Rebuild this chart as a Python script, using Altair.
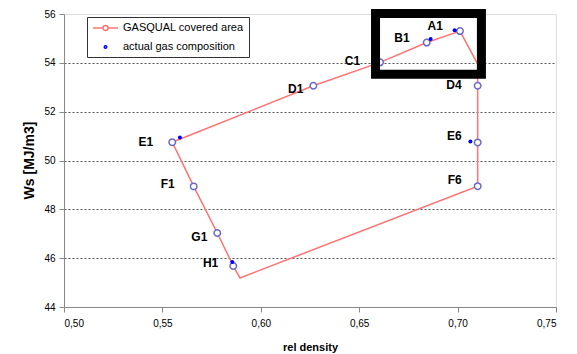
import altair as alt
import pandas as pd

# GASQUAL corner points (labelled, open circles)
names = ["A1", "B1", "C1", "D1", "E1", "F1", "G1", "H1", "F6", "E6", "D4"]
rel = [0.7012, 0.6843, 0.6606, 0.6267, 0.5550, 0.5659, 0.5779, 0.5860, 0.7102, 0.7102, 0.7102]
ws = [55.30, 54.83, 54.02, 53.06, 50.75, 48.94, 47.03, 45.68, 48.95, 50.74, 53.06]

# outline of the covered area (polygon, in drawing order)
outline_rel = [0.7012, 0.6843, 0.6606, 0.6267, 0.5550, 0.5659, 0.5779, 0.5860,
               0.5894, 0.7102, 0.7102, 0.7102, 0.7102, 0.7012]
outline_ws = [55.30, 54.83, 54.02, 53.06, 50.75, 48.94, 47.03, 45.68,
              45.19, 48.95, 50.74, 53.06, 53.95, 55.30]

# actual gas compositions
act_rel = [0.6985, 0.6863, 0.5589, 0.7065, 0.5855]
act_ws = [55.33, 54.98, 50.94, 50.78, 45.84]

# highlighted region (black frame)
hl_rel = [0.6583, 0.7121]
hl_ws = [53.53, 56.02]

series = ["GASQUAL covered area", "actual gas composition"]

x_ticks = [0.50, 0.55, 0.60, 0.65, 0.70, 0.75]
y_ticks = [44, 46, 48, 50, 52, 54, 56]

FONT = "Liberation Sans"
RED = "#ff7373"
CIRCLE = "#6a6ac8"
BLUE = "#0000ff"

pts = pd.DataFrame({"name": names, "rel": rel, "ws": ws})
outline = pd.DataFrame({"rel": outline_rel, "ws": outline_ws, "order": list(range(len(outline_rel)))})
actual = pd.DataFrame({"rel": act_rel, "ws": act_ws})
hl = pd.DataFrame({"x1": [hl_rel[0]], "x2": [hl_rel[1]], "y1": [hl_ws[0]], "y2": [hl_ws[1]]})
leg = pd.DataFrame({"series": series})

xscale = alt.Scale(domain=[0.5, 0.75], nice=False, zero=False)
yscale = alt.Scale(domain=[44, 56], nice=False, zero=False)

X = alt.X("rel:Q", scale=xscale, axis=alt.Axis(
    values=x_ticks, labelExpr="replace(format(datum.value, '.2f'), '.', ',')",
    title="rel density", grid=False, labelPadding=6, tickSize=5,
    titleY=40, titleBaseline="middle"))
Y = alt.Y("ws:Q", scale=yscale, axis=alt.Axis(
    values=y_ticks, title="Ws [MJ/m3]", grid=True, labelPadding=4, tickSize=5,
    gridDash=[2, 2], gridColor="#555555", gridWidth=1,
    gridOpacity=alt.condition("datum.value == 44 || datum.value == 56", alt.value(0), alt.value(1)),
    titleX=-35, titleY=146, titleAngle=270, titleAlign="center", titleBaseline="middle",
    titleFontSize=14))

line = alt.Chart(outline).mark_line(color=RED, strokeWidth=1.5).encode(
    x=X, y=Y, order="order:Q")

circles = alt.Chart(pts).mark_point(shape="circle", size=42, filled=True, fill="white",
                                    stroke=CIRCLE, strokeWidth=1.5, opacity=1).encode(
    x="rel:Q", y="ws:Q")

dots = alt.Chart(actual).mark_point(shape="circle", size=16, filled=True, color=BLUE, opacity=1).encode(
    x="rel:Q", y="ws:Q")

frame = alt.Chart(hl).mark_rect(fillOpacity=0, stroke="black", strokeWidth=9).encode(
    x="x1:Q", x2="x2:Q", y="y1:Q", y2="y2:Q")

label_offsets = {
    "A1": (-17, -5), "B1": (-17, -5), "C1": (-20, -1), "D1": (-10, 3),
    "E1": (-19, 0), "F1": (-19, -2), "G1": (-10, 4), "H1": (-15, -3),
    "F6": (-16, -6), "E6": (-16, -6), "D4": (-16, -1),
}
labels = []
for n in names:
    dx, dy = label_offsets[n]
    labels.append(
        alt.Chart(pts[pts["name"] == n]).mark_text(
            align="right", baseline="middle", dx=dx, dy=dy, font=FONT,
            fontSize=12, fontWeight="bold", color="black").encode(
            x="rel:Q", y="ws:Q", text="name:N"))

# legend symbols (unit = 5 px at symbolSize 100), shifted to sit in a 25 px wide slot
line_sym = "M-1,0L1,0M2,0L4,0M2,0A0.5,0.5 0 1,1 1,0A0.5,0.5 0 1,1 2,0"
dot_sym = "M1.75,0A0.25,0.25 0 1,1 1.25,0A0.25,0.25 0 1,1 1.75,0"

leg_props = dict(title=None, orient="none", legendX=23, legendY=3,
                 strokeColor="#333333", fillColor="white", padding=5,
                 labelFont=FONT, labelFontSize=11, labelColor="black",
                 symbolOpacity=1, symbolStrokeWidth=1.5, symbolSize=100,
                 rowPadding=7, labelOffset=19, labelLimit=300)

legend_layer = alt.Chart(leg).mark_point(opacity=0, filled=False, size=100, strokeWidth=1.5).encode(
    x=alt.value(0), y=alt.value(0),
    color=alt.Color("series:N", scale=alt.Scale(domain=series, range=[RED, BLUE]),
                    legend=alt.Legend(**leg_props)),
    shape=alt.Shape("series:N", scale=alt.Scale(domain=series, range=[line_sym, dot_sym]),
                    legend=alt.Legend(**leg_props)),
)

chart = alt.layer(line, circles, dots, *labels, frame, legend_layer).properties(
    width=492, height=293,
    autosize=alt.AutoSizeParams(type="none"),
    padding={"left": 64, "top": 14, "right": 21, "bottom": 47},
).configure_view(stroke="#a6a6a6", strokeWidth=1).configure_axis(
    domainColor="#808080", tickColor="#808080", labelColor="#555555",
    labelFont=FONT, labelFontSize=11, titleFont=FONT, titleFontSize=13,
    titleFontWeight="bold", titleColor="black", domainWidth=1.2,
).configure(background="white")

chart.save("out.html", embed_options={"renderer": "svg", "actions": False})
